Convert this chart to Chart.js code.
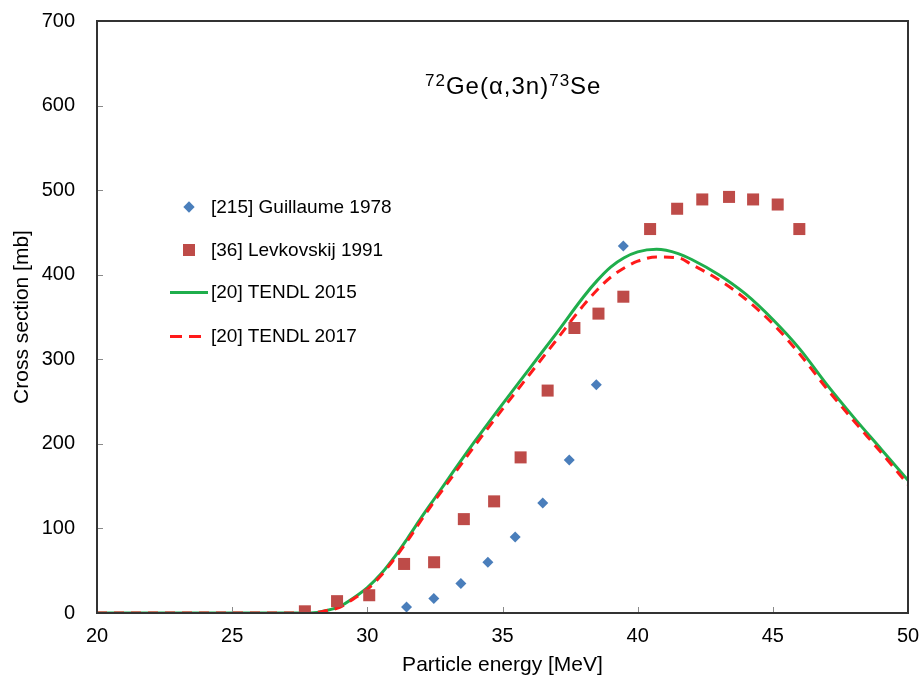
<!DOCTYPE html>
<html>
<head>
<meta charset="utf-8">
<script src="https://cdn.jsdelivr.net/npm/chart.js@4"></script>
<style>
  body { margin: 0; background: #fff; }
  #wrap { position: relative; width: 921px; height: 676px; font-family: "Liberation Sans", Arial, sans-serif; color: #000; }
  #reaction { position: absolute; left: 425px; top: 71px; font-size: 24px; letter-spacing: 1px; white-space: nowrap; }
  #reaction sup { font-size: 17px; vertical-align: 8px; }
  #legend { position: absolute; left: 0; top: 0; }
  .item { position: absolute; font-size: 19px; white-space: nowrap; line-height: 22px; }
  .mark { position: absolute; }
</style>
</head>
<body>
<div id="wrap">
  <canvas id="chart" width="921" height="676"></canvas>
  <div id="reaction"><sup>72</sup>Ge(&alpha;,3n)<sup>73</sup>Se</div>
  <div id="legend"></div>
</div>
<script>
// measured points
const guillaumeE = [31.45, 32.46, 33.46, 34.46, 35.47, 36.49, 37.47, 38.47, 39.47];
const guillaumeXS = [7, 17, 35, 60, 90, 130, 181, 270, 434];

const levkovskijE = [27.69, 28.88, 30.07, 31.36, 32.47, 33.57, 34.69, 35.67, 36.67, 37.66, 38.55, 39.47, 40.46, 41.46, 42.39, 43.38, 44.27, 45.18, 45.98];
const levkovskijXS = [2, 14, 21, 58, 60, 111, 132, 184, 263, 337, 354, 374, 454, 478, 489, 492, 489, 483, 454];

// TENDL evaluations
const tendlE = [20, 22, 24, 26, 27, 27.9, 28.5, 29, 29.5, 30, 30.5, 31, 31.5, 32, 32.5, 33, 34, 35, 36, 37, 38, 38.5, 39, 39.5, 40, 40.7, 41.5, 42, 43, 44, 45, 46, 47, 48, 49, 50];
const tendl2015XS = [0, 0, 0, 0, 0, 0, 3, 8, 18, 30, 46, 66, 89, 113, 136, 159, 204, 247, 289, 331, 374, 393, 409, 420, 427, 430, 425, 418, 400, 377, 347, 312, 270, 231, 194, 157];
const tendl2017XS = [0, 0, 0, 0, 0, 0, 3, 7, 17, 28, 44, 64, 86, 110, 133, 155, 199, 241, 282, 323, 364, 382, 397, 408, 416, 421, 420, 412, 394, 371, 342, 306, 265, 227, 190, 152];

const xTicks = [20, 25, 30, 35, 40, 45, 50];
const yTicks = [0, 100, 200, 300, 400, 500, 600, 700];

function toPoints(xs, ys) {
  return xs.map((x, i) => ({ x: x, y: ys[i] }));
}

const font = "'Liberation Sans', Arial, sans-serif";

// frame round the plot area plus small inward ticks
const framePlugin = {
  id: "frame",
  afterDraw(chart) {
    const ctx = chart.ctx;
    const a = chart.chartArea;
    const xs = chart.scales.x, ys = chart.scales.y;
    ctx.save();
    ctx.strokeStyle = "#8a8a8a";
    ctx.lineWidth = 1;
    xTicks.slice(1, -1).forEach(v => {
      const px = Math.round(xs.getPixelForValue(v)) + 0.5;
      ctx.beginPath(); ctx.moveTo(px, a.bottom); ctx.lineTo(px, a.bottom - 6); ctx.stroke();
    });
    yTicks.slice(1, -1).forEach(v => {
      const py = Math.round(ys.getPixelForValue(v)) + 0.5;
      ctx.beginPath(); ctx.moveTo(a.left, py); ctx.lineTo(a.left + 6, py); ctx.stroke();
    });
    ctx.strokeStyle = "#333";
    ctx.lineWidth = 2;
    ctx.strokeRect(a.left, a.top, a.right - a.left, a.bottom - a.top);
    ctx.restore();
  }
};

const chart = new Chart(document.getElementById("chart"), {
  type: "scatter",
  data: {
    datasets: [
      {
        label: "[215] Guillaume 1978",
        data: toPoints(guillaumeE, guillaumeXS),
        pointStyle: "rectRot",
        pointRadius: 5.5,
        backgroundColor: "#4a7ebb",
        borderColor: "#4a7ebb",
        borderWidth: 0,
        order: 0
      },
      {
        label: "[36] Levkovskij 1991",
        data: toPoints(levkovskijE, levkovskijXS),
        pointStyle: "rect",
        pointRadius: 8.5,
        backgroundColor: "#be4b48",
        borderColor: "#be4b48",
        borderWidth: 0,
        order: 1
      },
      {
        label: "[20] TENDL 2015",
        data: toPoints(tendlE, tendl2015XS),
        showLine: true,
        pointRadius: 0,
        borderColor: "#1fae4c",
        borderWidth: 3,
        cubicInterpolationMode: "monotone",
        order: 3
      },
      {
        label: "[20] TENDL 2017",
        data: toPoints(tendlE, tendl2017XS),
        showLine: true,
        pointRadius: 0,
        borderColor: "#ff1a1a",
        borderWidth: 3,
        borderDash: [10, 7],
        cubicInterpolationMode: "monotone",
        order: 2
      }
    ]
  },
  options: {
    responsive: false,
    animation: false,
    layout: { padding: { left: 0, right: 13, top: 21, bottom: 0 } },
    plugins: { legend: { display: false }, tooltip: { enabled: false } },
    scales: {
      x: {
        type: "linear",
        min: 20, max: 50,
        afterBuildTicks: s => { s.ticks = xTicks.map(v => ({ value: v })); },
        afterFit: s => { s.height = 63; s.paddingLeft = 0; s.paddingRight = 0; },
        grid: { display: false },
        border: { display: false },
        ticks: { color: "#000", font: { family: font, size: 20 }, padding: 3, maxRotation: 0 },
        title: { display: true, text: "Particle energy [MeV]", color: "#000", font: { family: font, size: 21 }, padding: { top: 0, bottom: -2 } }
      },
      y: {
        min: 0, max: 700,
        afterBuildTicks: s => { s.ticks = yTicks.map(v => ({ value: v })); },
        afterFit: s => { s.width = 97; s.paddingTop = 0; s.paddingBottom = 0; },
        grid: { display: false },
        border: { display: false },
        ticks: { color: "#000", font: { family: font, size: 20 }, padding: 14 },
        title: { display: true, text: "Cross section [mb]", color: "#000", font: { family: font, size: 21 }, padding: { top: 10, bottom: 0 } }
      }
    }
  },
  plugins: [framePlugin]
});

// legend inside the plot, built from the datasets
const legendRows = [207, 250, 292, 336];
const legend = document.getElementById("legend");
chart.data.datasets.forEach((ds, i) => {
  const y = legendRows[i];
  const text = document.createElement("div");
  text.className = "item";
  text.style.left = "211px";
  text.style.top = (y - 11) + "px";
  text.textContent = ds.label;
  legend.appendChild(text);
  if (i === 0) {
    const m = document.createElement("div");
    m.className = "mark";
    m.style.cssText = "left:185px;top:" + (y - 4) + "px;width:8px;height:8px;transform:rotate(45deg);background:" + ds.backgroundColor;
    legend.appendChild(m);
  } else if (i === 1) {
    const m = document.createElement("div");
    m.className = "mark";
    m.style.cssText = "left:183px;top:" + (y - 6) + "px;width:12px;height:12px;background:" + ds.backgroundColor;
    legend.appendChild(m);
  } else if (i === 2) {
    const m = document.createElement("div");
    m.className = "mark";
    m.style.cssText = "left:170px;top:" + (y - 1.5) + "px;width:38px;height:3px;background:" + ds.borderColor;
    legend.appendChild(m);
  } else {
    [170, 189].forEach(x0 => {
      const m = document.createElement("div");
      m.className = "mark";
      m.style.cssText = "left:" + x0 + "px;top:" + (y - 1.5) + "px;width:12px;height:3px;background:" + ds.borderColor;
      legend.appendChild(m);
    });
  }
});
</script>
</body>
</html>
